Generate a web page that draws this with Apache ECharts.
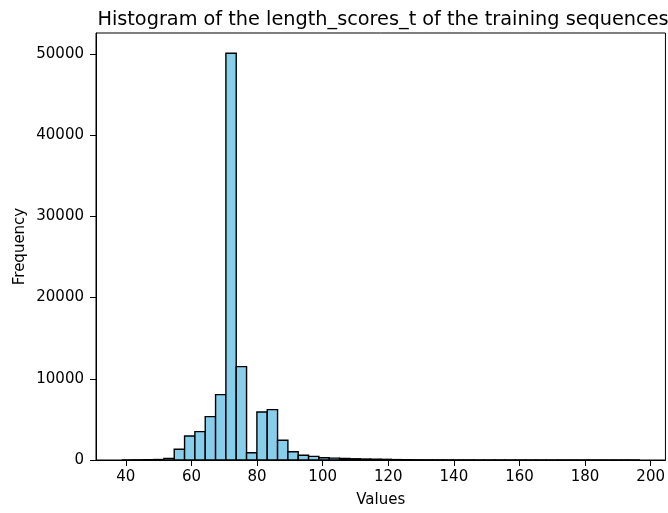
<!DOCTYPE html>
<html lang="en">

<head>
    <meta charset="UTF-8">
    <title>Histogram</title>
    <style>
        body {
            margin: 0;
        }

        #chart {
            width: 668px;
            height: 513px;
        }
    </style>
</head>

<body>
    <div id="chart"></div>
    <script src="https://cdn.jsdelivr.net/npm/echarts@6/dist/echarts.min.js"></script>
    <script>
        // histogram bins: 50 bins from the data min to the data max
        const binStart = 39;
        const binWidth = 3.15;
        const counts = [
            5, 20, 40, 60, 200, 1320, 2960, 3490, 5340, 8050,
            50070, 11500, 900, 5910, 6200, 2430, 1020, 580, 450, 280,
            230, 180, 150, 120, 100, 80, 50, 40, 25, 20,
            15, 12, 10, 8, 5, 4, 3, 2, 2, 1,
            1, 1, 0, 0, 1, 0, 0, 0, 0, 1
        ];
        const xTicks = [40, 60, 80, 100, 120, 140, 160, 180, 200];
        const yTicks = [0, 10000, 20000, 30000, 40000, 50000];

        const bins = counts.map((c, i) => [binStart + i * binWidth, binStart + (i + 1) * binWidth, c]);

        const chart = echarts.init(document.getElementById('chart'));
        const font = 'DejaVu Sans';

        function renderBar(params, api) {
            const topLeft = api.coord([api.value(0), api.value(2)]);
            const bottomRight = api.coord([api.value(1), 0]);
            return {
                type: 'rect',
                shape: {
                    x: topLeft[0],
                    y: topLeft[1],
                    width: bottomRight[0] - topLeft[0],
                    height: bottomRight[1] - topLeft[1]
                },
                style: {
                    fill: '#87ceeb',
                    stroke: '#000',
                    lineWidth: 1.4
                }
            };
        }

        chart.setOption({
            animation: false,
            title: {
                text: 'Histogram of the length_scores_t of the training sequences',
                left: 378,
                textAlign: 'center',
                top: 5,
                textStyle: {
                    fontFamily: font,
                    fontSize: 19.3,
                    fontWeight: 'normal',
                    color: '#000'
                }
            },
            grid: {
                left: 96,
                right: 1,
                top: 33,
                bottom: 53,
                show: true,
                borderColor: '#000',
                borderWidth: 1
            },
            xAxis: {
                type: 'value',
                min: 30.9,
                max: 204.5,
                name: 'Values',
                nameLocation: 'middle',
                nameGap: 33,
                nameMoveOverlap: false,
                nameTextStyle: { fontFamily: font, fontSize: 15, color: '#000' },
                splitLine: { show: false },
                axisLine: { lineStyle: { color: '#000', width: 1 } },
                axisTick: { length: 6, lineStyle: { color: '#000' }, customValues: xTicks },
                axisLabel: {
                    fontFamily: font, fontSize: 15, color: '#000', margin: 10,
                    customValues: xTicks
                }
            },
            yAxis: {
                type: 'value',
                min: 0,
                max: 52570,
                name: 'Frequency',
                nameLocation: 'middle',
                nameGap: 68,
                nameMoveOverlap: false,
                nameTextStyle: { fontFamily: font, fontSize: 15, color: '#000' },
                splitLine: { show: false },
                axisLine: { show: true, lineStyle: { color: '#000', width: 1 } },
                axisTick: { show: true, length: 6, lineStyle: { color: '#000' }, customValues: yTicks },
                axisLabel: {
                    fontFamily: font, fontSize: 15, color: '#000', margin: 12,
                    customValues: yTicks,
                    formatter: v => String(v)
                }
            },
            series: [{
                type: 'custom',
                renderItem: renderBar,
                encode: { x: [0, 1], y: 2 },
                data: bins
            }]
        });
    </script>
</body>

</html>
